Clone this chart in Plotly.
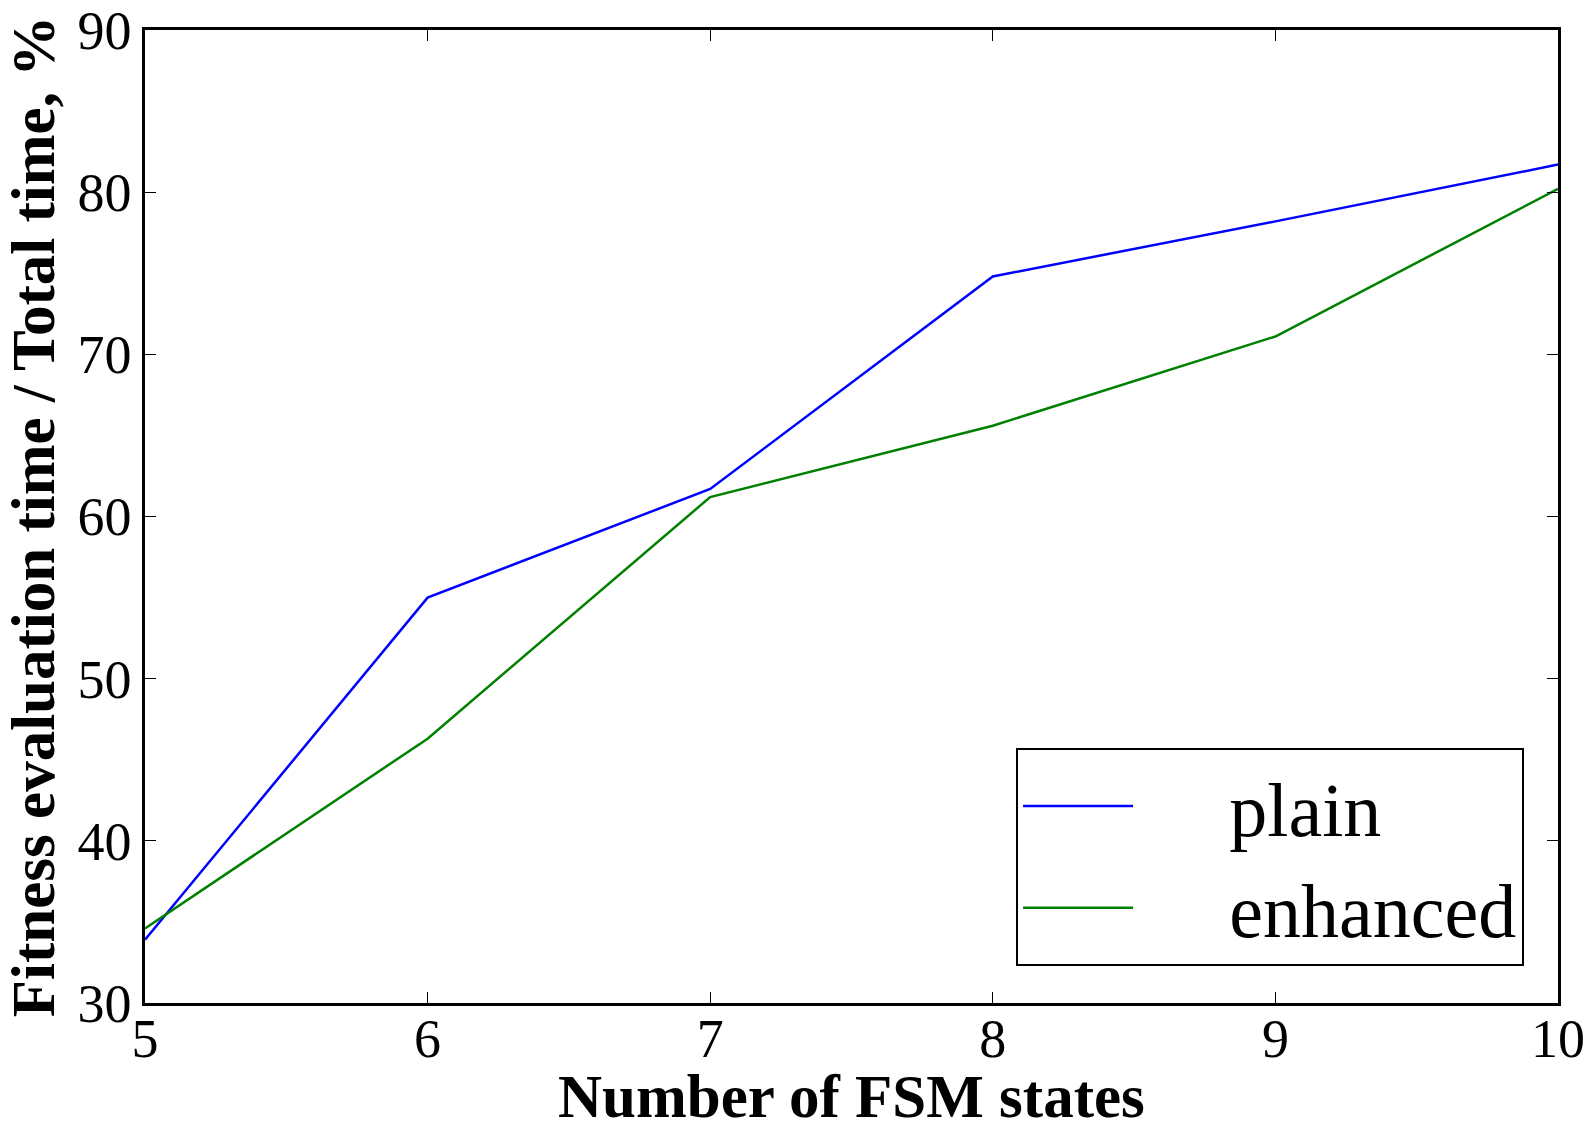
import plotly.graph_objects as go

states = [5, 6, 7, 8, 9, 10]
plain = [33.9, 55.0, 61.7, 74.8, 78.2, 81.7]
enhanced = [34.6, 46.3, 61.2, 65.6, 71.1, 80.2]

x_ticks = [5, 6, 7, 8, 9, 10]
y_ticks = [30, 40, 50, 60, 70, 80, 90]
x_title = "Number of FSM states"
y_title = "Fitness evaluation time / Total time, %"

FONT = "Liberation Serif"

fig = go.Figure()
fig.add_trace(go.Scatter(x=states, y=plain, mode="lines", name="\u2003\u2009plain",
                         line=dict(color="#0000ff", width=2.5)))
fig.add_trace(go.Scatter(x=states, y=enhanced, mode="lines", name="\u2003\u2009enhanced",
                         line=dict(color="#008000", width=2.5)))

axis_common = dict(
    showgrid=False, zeroline=False, automargin=False,
    showline=True, linecolor="black", linewidth=2.5, mirror="ticks",
    ticks="inside", ticklen=11, tickwidth=1.3, tickcolor="black",
    tickfont=dict(family=FONT, size=54, color="black"),
)

fig.update_layout(
    width=1593, height=1127,
    margin=dict(l=145, r=35, t=30, b=124),
    paper_bgcolor="white", plot_bgcolor="white",
    xaxis=dict(range=[5, 10], tickvals=x_ticks, ticktext=[str(v) for v in x_ticks],
               ticklabelstandoff=-14, **axis_common),
    yaxis=dict(range=[30, 90], tickvals=y_ticks, ticktext=[str(v) for v in y_ticks],
               title=dict(text="<b>" + y_title + "</b>", standoff=14,
                          font=dict(family=FONT, size=61, color="black")),
               **axis_common),
    legend=dict(x=0.976, y=0.038, xanchor="right", yanchor="bottom",
                bgcolor="white", bordercolor="black", borderwidth=2,
                font=dict(family=FONT, size=76, color="black"),
                itemwidth=110, tracegroupgap=0),
    showlegend=True,
    annotations=[dict(text="<b>" + x_title + "</b>", xref="paper", yref="paper",
                      x=0.5, y=0, xanchor="center", yanchor="top", yshift=-58,
                      showarrow=False, font=dict(family=FONT, size=61, color="black"))],
)

fig.write_html("out.html")
